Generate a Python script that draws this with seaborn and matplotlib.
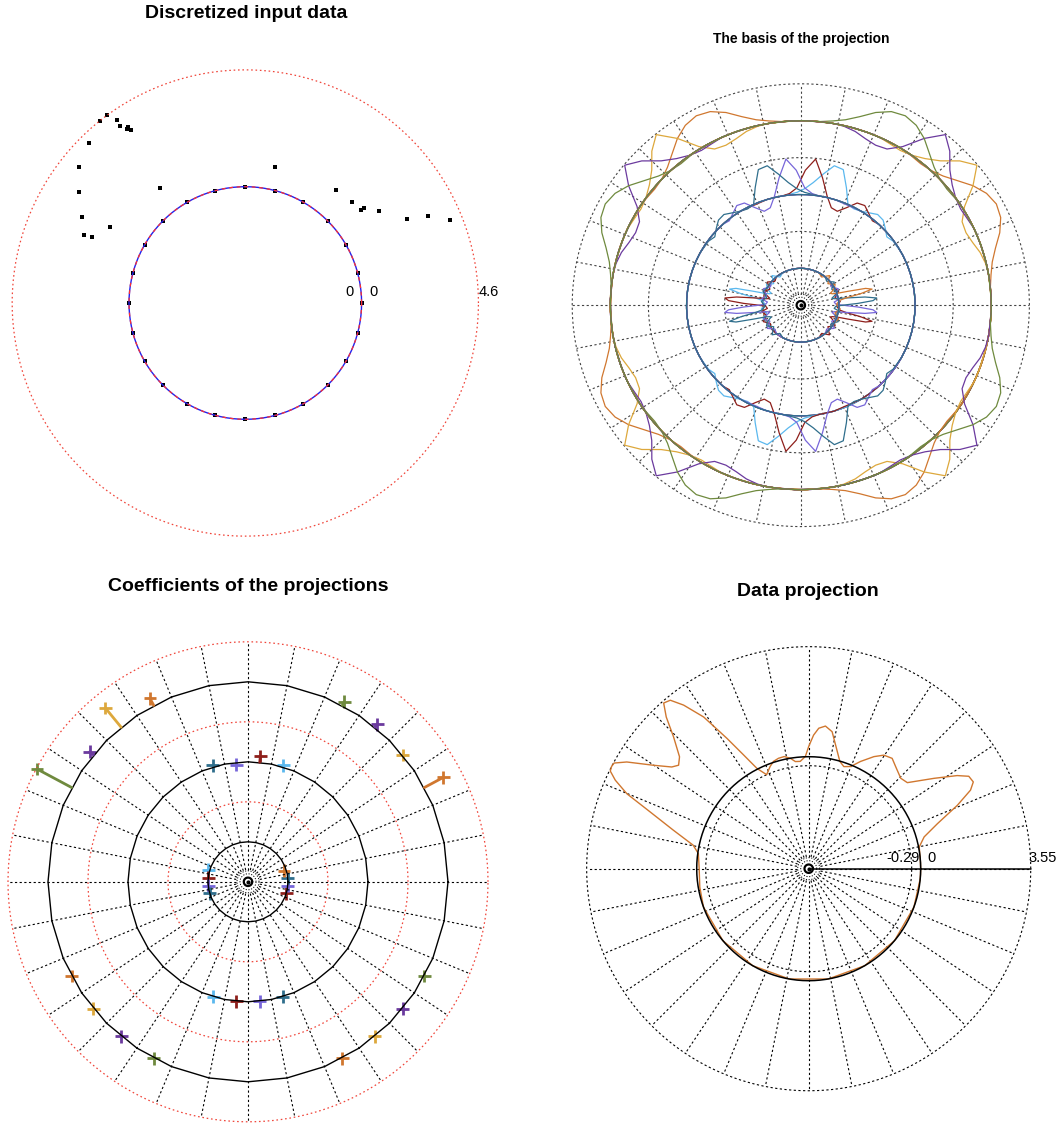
import numpy as np
import matplotlib
matplotlib.use("Agg")
import matplotlib.pyplot as plt
import seaborn as sns

sns.set_theme(style="white")
plt.rcParams["font.family"] = ["Liberation Sans", "DejaVu Sans"]
plt.rcParams["text.color"] = "black"

# ---------------------------------------------------------------- data
# Raw input samples: angle (deg) and value
raw_angle = [126.3, 128.6, 125.1, 125.2, 124.3, 123.6, 123.5, 134.4, 140.7, 146.3,
             152.2, 157.1, 156.7, 150.6, 126.7, 77.7, 51.3, 43.3, 38.8, 38.7,
             34.6, 27.6, 25.4, 22.0]
raw_value = [4.60, 4.58, 4.22, 3.96, 3.71, 3.75, 3.59, 4.22, 3.87, 3.30,
             2.70, 2.30, 1.99, 1.55, 1.07, 0.89, 1.13, 1.20, 1.26, 1.39,
             1.83, 2.59, 3.38, 4.11]
# Discretisation grid (zero-valued samples)
grid_angle = list(range(0, 360, 15))
grid_value = [0.0] * 24
data_max = 4.6

# Basis functions: one per angular cell, cell k centred on (k + 0.5) * 11.25 deg
cell_width = 11.25
outer_cells = [2, 3, 4, 5, 10, 11, 12, 13, 18, 19, 20, 21, 26, 27, 28, 29]
outer_colors = ["orange", "gold", "dpurple", "olive"] * 4
middle_cells = [6, 7, 8, 9, 22, 23, 24, 25]
middle_colors = ["cyan", "red", "mpurple", "teal"] * 2
inner_cells = [30, 31, 0, 1, 14, 15, 16, 17]
inner_colors = ["red", "mpurple", "teal", "orange", "cyan", "red", "mpurple", "teal"]
group_kind = ["edge", "core", "core", "edge"]
group_side = [-1, -1, 1, 1]

# Coefficients of the projection on each basis function
outer_coef = [0.27, 0.00, 0.05, 0.05, 0.10, 0.31, 0.06, 0.49,
              0.00, 0.00, 0.00, 0.00, 0.00, 0.00, 0.00, 0.00]
middle_coef = [0.02, 0.08, -0.03, 0.02, 0.00, 0.00, 0.00, 0.00]
inner_coef = [0.00, 0.00, 0.00, -0.03, 0.02, 0.00, 0.00, 0.00]

# Wave profiles (offset in deg away from the group centre, value in band units)
outer_edge_off = [-37.5, -30, -26.25, -22.5, -18.75, -15, -11.25, -7.5, -3.75, 0,
                  3.75, 7.5, 11.25, 15, 18.75, 22.5, 26.25, 30, 37.5]
outer_edge_val = [0, 0, -0.01, -0.02, 0.0, 0.06, 0.16, 0.28, 0.37, 0.41,
                  0.38, 0.29, 0.17, 0.08, 0.03, 0.0, 0.0, 0, 0]
outer_core_off = [-37.5, -30, -26.25, -22.5, -18.75, -15, -11.25, -7.5, -3.75, 0,
                  3.75, 7.5, 11.25, 15, 18.75, 22.5, 26.25, 30, 37.5]
outer_core_val = [0, 0, 0.0, -0.02, -0.03, 0.0, 0.07, 0.18, 0.36, 0.49,
                  0.28, 0.03, -0.10, -0.12, -0.09, -0.04, -0.01, 0, 0]
middle_edge_off = [-37.5, -30, -26.25, -22.5, -18.75, -15, -11.25, -7.5, -3.75, 0,
                   3.75, 7.5, 11.25, 15, 18.75, 22.5, 26.25, 30, 33.75, 37.5, 45]
middle_edge_val = [0, 0, 0, 0.01, 0.03, 0.08, 0.17, 0.30, 0.44, 0.42,
                   0.20, 0.0, -0.02, 0.0, 0.04, 0.09, 0.08, 0.02, -0.04, -0.01, 0]
middle_core_off = [-37.5, -22.5, -15, -11.25, -7.5, -3.75, 0, 3.75, 7.5, 11.25,
                   15, 18.75, 22.5, 26.25, 30, 33.75, 37.5, 45]
middle_core_val = [0, 0, 0.0, 0.02, 0.09, 0.33, 0.49, 0.25, 0.02, -0.12,
                   -0.14, -0.05, 0.07, 0.09, 0.03, -0.02, 0, 0]
inner_edge_off = [-45, -37.5, -30, -22.5, -15, -11.25, -9.375, -7.5, -5.625, -3.75,
                  -1.875, 0, 1.875, 3.75, 5.625, 7.5, 11.25, 15, 22.5, 30, 37.5, 45]
inner_edge_val = [0, 0.03, -0.04, 0.02, -0.03, 0.0, 0.02, 0.10, 0.30, 0.46,
                  0.38, 0.15, 0.0, -0.06, -0.08, -0.05, 0.0, 0.03, -0.04, 0.05, -0.03, 0]
inner_core_off = [-45, -37.5, -30, -22.5, -15, -11.25, -7.5, -5.625, -3.75, -1.875,
                  0, 1.875, 3.75, 5.625, 7.5, 11.25, 15, 22.5, 30, 37.5, 45]
inner_core_val = [0, -0.03, 0.04, -0.03, 0.02, -0.06, -0.04, 0.05, 0.25, 0.45,
                  0.50, 0.35, 0.10, -0.05, -0.08, -0.03, 0.02, -0.04, 0.04, -0.03, 0]

# Reconstructed signal (angle in deg, value)
proj_angle = [0, 5, 11.1, 15.4, 19.3, 23.1, 25.9, 27.8, 30.0, 32.1, 35.8, 41.1, 44.5,
              49.5, 52.9, 56.5, 59.8, 64.2, 67.7, 71.0, 73.8, 77.0, 80.3, 83.3, 85.9,
              87.9, 90.0, 91.7, 94.5, 97.1, 99.5, 102.3, 105.3, 108.2, 110.7, 114.1,
              115.8, 117.3, 119.8, 122.1, 124.7, 127.4, 129.4, 131.2, 133.2, 135.7,
              139.1, 141.5, 143.4, 146.3, 149.6, 151.5, 152.6, 153.8, 155.4, 157.6,
              160.3, 164.1, 168.5, 172.2, 180.0, 189.6, 200, 220, 240, 260, 280, 300,
              320, 340, 355, 360]
proj_value = [0, 0, 0.02, 0.25, 0.79, 1.60, 2.19, 2.39, 2.35, 2.04, 1.37, 0.61, 0.55,
              0.71, 0.85, 0.78, 0.57, 0.23, -0.05, -0.13, -0.01, 0.37, 0.87, 1.02, 0.93,
              0.70, 0.33, 0.01, -0.14, -0.13, 0.0, 0.09, 0.08, 0.03, -0.09, -0.29,
              -0.13, 0.03, 0.62, 1.35, 2.34, 3.03, 3.42, 3.49, 3.10, 2.48,
              1.90, 1.75, 1.89, 2.40, 3.19, 3.53, 3.55, 3.52, 3.25, 2.73,
              1.82, 0.93, 0.19, -0.02, -0.08, -0.05, 0, 0, 0, 0, 0, 0,
              0, 0, 0, 0]
proj_min, proj_max = -0.29, 3.55

palette = {"orange": "#D0772F", "gold": "#DDA83C", "dpurple": "#6B3A9E",
           "olive": "#6F8A3E", "cyan": "#5BB8EE", "red": "#8E1F1B",
           "mpurple": "#7766D9", "teal": "#2F6E8C"}
grid_red = "#F0453A"

# ---------------------------------------------------------------- helpers
W, H = 1063, 1124
fig = plt.figure(figsize=(W / 100, H / 100), dpi=100)
DOT = (0, (2, 2.2))


def panel_axes(box, center, scale):
    x0, y0, x1, y1 = box
    cx, cy = center
    sx, sy = scale
    ax = fig.add_axes([x0 / W, 1 - y1 / H, (x1 - x0) / W, (y1 - y0) / H])
    ax.set_xlim((x0 - cx) / sx, (x1 - cx) / sx)
    ax.set_ylim((cy - y1) / sy, (cy - y0) / sy)
    ax.set_axis_off()
    return ax


def to_xy(theta_deg, r):
    t = np.deg2rad(np.asarray(theta_deg, float))
    r = np.asarray(r, float)
    return r * np.cos(t), r * np.sin(t)


def ring(ax, r, n=361, **kw):
    t = np.linspace(0, 360, n)
    x, y = to_xy(t, np.full(n, r))
    ax.plot(x, y, **kw)


def spokes(ax, r0, r1, **kw):
    for a in np.arange(0, 360, cell_width):
        x, y = to_xy([a, a], [r0, r1])
        ax.plot(x, y, **kw)


def centre_mark(ax, sx, sy):
    t = np.linspace(0, 2 * np.pi, 100)
    ax.plot(4.2 / sx * np.cos(t), 4.2 / sy * np.sin(t), color="black", lw=1.6)
    ax.plot([0], [0], marker="o", ms=2.0, color="black")
    for rp in (8.0, 11.0):
        ax.plot(rp / sx * np.cos(t), rp / sy * np.sin(t), color="black", lw=0.7, ls=(0, (1.2, 1.6)))


def title(text, x, y, size):
    fig.text(x / W, 1 - y / H, text, ha="center", va="baseline",
             fontsize=size, fontweight="bold")


def label(text, x, y):
    fig.text(x / W, 1 - y / H, text, ha="center", va="center", fontsize=10.5)


profiles = {
    "outer": {"edge": (outer_edge_off, outer_edge_val), "core": (outer_core_off, outer_core_val)},
    "middle": {"edge": (middle_edge_off, middle_edge_val), "core": (middle_core_off, middle_core_val)},
    "inner": {"edge": (inner_edge_off, inner_edge_val), "core": (inner_core_off, inner_core_val)},
}
bands = [
    ("inner", 0.5, inner_cells, inner_colors, inner_coef),
    ("middle", 1.5, middle_cells, middle_colors, middle_coef),
    ("outer", 2.5, outer_cells, outer_colors, outer_coef),
]


def basis_curve(center, off, val, side):
    ang = center + side * np.asarray(off, float)
    val = np.asarray(val, float)
    order = np.argsort(ang)
    ang, val = ang[order], val[order]
    rest = np.arange(ang[-1] + 5, ang[0] + 360, 5.0)
    ang = np.concatenate([ang, rest, [ang[0] + 360]])
    val = np.concatenate([val, np.zeros(len(rest)), [val[0]]])
    return ang, val


# ---------------------------------------------------------------- panel 1
c1, s1 = (245.3, 303.0), (25.4, 25.4)
ax1 = panel_axes((0, 0, 531, 562), c1, s1)
R1 = 116.3 / 25.4
ring(ax1, R1 + data_max, color=grid_red, lw=0.9, ls=(0, (1.3, 2.2)))
ring(ax1, R1, color="#2222EE", lw=1.0)
ring(ax1, R1, color="#FF3030", lw=0.9, ls=(0, (3, 3)))
gx, gy = to_xy(grid_angle, R1 + np.asarray(grid_value))
rx, ry = to_xy(raw_angle, R1 + np.asarray(raw_value))
sns.scatterplot(x=np.concatenate([gx, rx]), y=np.concatenate([gy, ry]), marker="s",
                s=8, color="black", linewidth=0, ax=ax1)
title("Discretized input data", 246, 18.5, 14)
label("0", 349.7, 292.5)
label("0", 373.0, 292.5)
label("4.6", 488.7, 292.5)

# ---------------------------------------------------------------- panel 2
c2, s2 = (800.8, 305.2), (76.2, 73.8)
ax2 = panel_axes((531, 0, 1063, 562), c2, s2)
for rr in (1, 2, 3):
    ring(ax2, rr, color="#444444", lw=0.8, ls=DOT)
spokes(ax2, 12 / 76.2, 3, color="#444444", lw=0.8, ls=DOT)
for name, base, cells, cols, _ in bands:
    for i, (k, col) in enumerate(zip(cells, cols)):
        off, val = profiles[name][group_kind[i % 4]]
        ang, v = basis_curve((k + 0.5) * cell_width, off, val, group_side[i % 4])
        x, y = to_xy(ang, base + v)
        sns.lineplot(x=x, y=y, sort=False, estimator=None, color=palette[col],
                     lw=0.9, ax=ax2)
centre_mark(ax2, *s2)
title("The basis of the projection", 801, 43.3, 10)

# ---------------------------------------------------------------- panel 3
c3, s3 = (248.0, 881.8), (80.0, 80.0)
ax3 = panel_axes((0, 562, 531, 1124), c3, s3)
for rr in (1, 2, 3):
    ring(ax3, rr, color=grid_red, lw=0.9, ls=(0, (1.3, 2.2)))
spokes(ax3, 12 / 80, 3, color="black", lw=0.8, ls=DOT)
poly_t = np.arange(0, 360 + cell_width, cell_width)
for name, base, cells, cols, coef in bands:
    px, py = to_xy(poly_t, np.full(len(poly_t), base))
    ax3.plot(px, py, color="black", lw=1.0)
for name, base, cells, cols, coef in bands:
    ang = (np.asarray(cells) + 0.5) * cell_width
    r = base + np.asarray(coef)
    mx, my = to_xy(ang, r)
    bx, by = to_xy(ang, np.full(len(ang), base))
    for j in range(len(cells)):
        if abs(coef[j]) > 0.03:
            ax3.plot([bx[j], mx[j]], [by[j], my[j]], color=palette[cols[j]], lw=2.0)
    sns.scatterplot(x=mx, y=my, hue=list(cols), palette=palette, marker="+", s=85,
                    linewidth=2.0, legend=False, ax=ax3)
centre_mark(ax3, *s3)
title("Coefficients of the projections", 248, 591, 14)

# ---------------------------------------------------------------- panel 4
c4, s4 = (808.7, 868.7), (31.0, 31.0)
ax4 = panel_axes((531, 562, 1063, 1124), c4, s4)
R4 = 112.0 / 31.0
spokes(ax4, 12 / 31.0, R4 + proj_max, color="black", lw=0.8, ls=DOT)
ring(ax4, R4 + proj_max, color="black", lw=0.8, ls=DOT)
ring(ax4, R4 + proj_min, color="black", lw=0.8, ls=DOT)
x, y = to_xy(proj_angle, R4 + np.asarray(proj_value))
sns.lineplot(x=x, y=y, sort=False, estimator=None, color=palette["orange"], lw=1.0, ax=ax4)
ring(ax4, R4, color="black", lw=1.1)
ax4.plot([0, R4 + proj_max], [0, 0], color="black", lw=1.1)
centre_mark(ax4, *s4)
title("Data projection", 808, 596, 14)
label("-0.29", 903.0, 858.0)
label("0", 931.3, 858.0)
label("3.55", 1042.8, 858.0)

fig.savefig("out.png", dpi=100, facecolor="white")
